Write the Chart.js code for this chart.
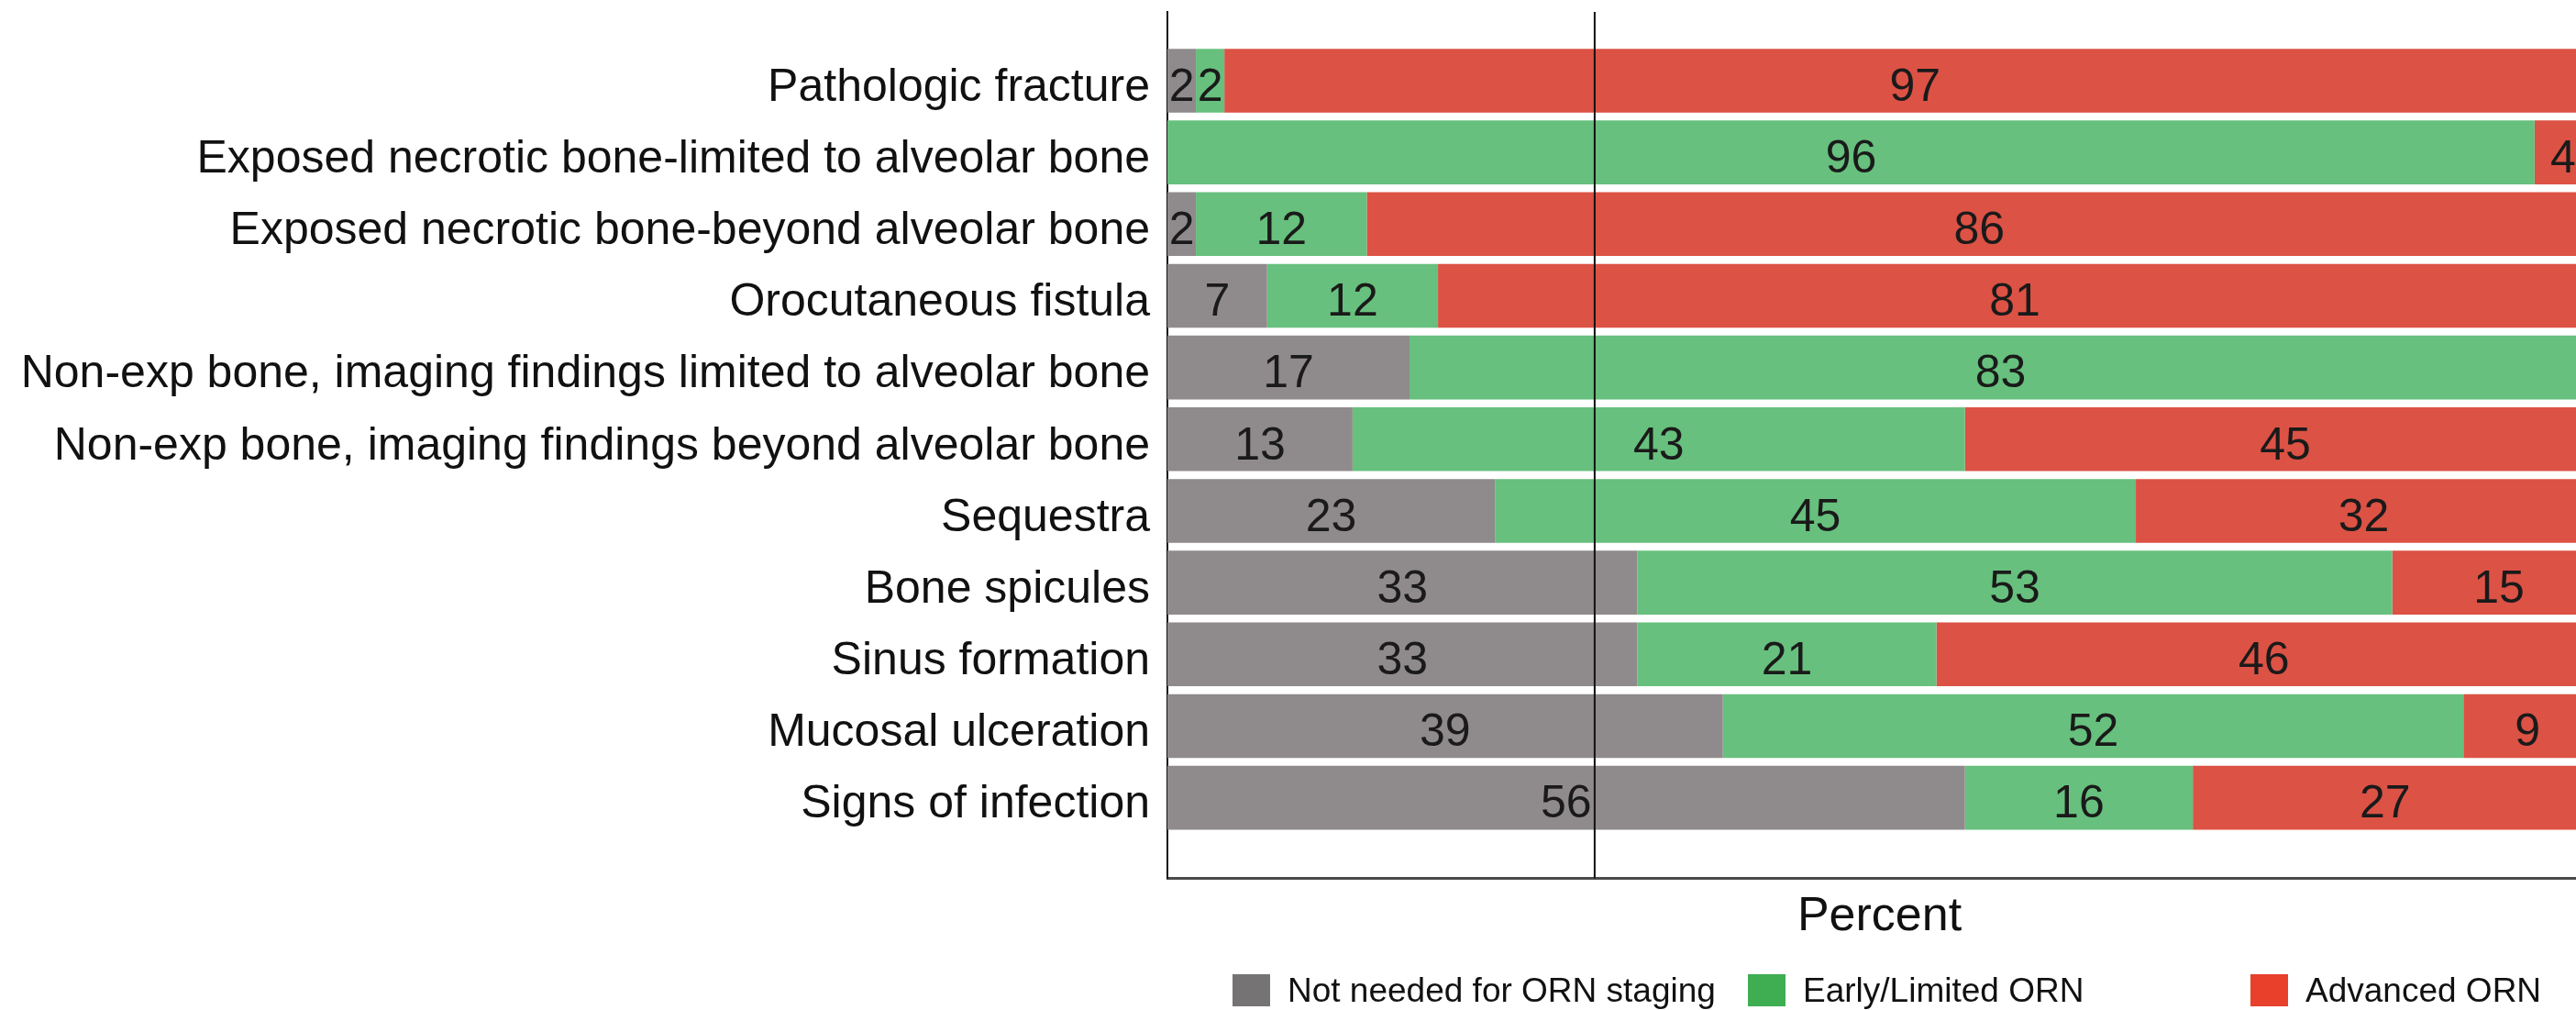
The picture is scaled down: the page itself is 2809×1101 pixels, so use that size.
<!DOCTYPE html>
<html>
<head>
<meta charset="utf-8">
<script src="https://cdn.jsdelivr.net/npm/chart.js@4.4.0/dist/chart.umd.min.js"></script>
<style>
  html, body { margin: 0; padding: 0; background: #fff; overflow: hidden; }
  #wrap { position: relative; width: 2809px; height: 1101px; overflow: hidden; }
  #legend { position: absolute; left: 1344px; top: 1062px; display: flex;
            font-family: "Liberation Sans", Arial, sans-serif; font-size: 37px; color: #111; }
  .item { display: flex; align-items: center; height: 35px; }
  .box { width: 41px; height: 35px; margin-right: 19px; }
</style>
</head>
<body>
<div id="wrap">
  <canvas id="chart" width="2826" height="1101"></canvas>
  <div id="legend"></div>
</div>
<script>
// values (percent of cases)
const categories = [
  "Pathologic fracture",
  "Exposed necrotic bone-limited to alveolar bone",
  "Exposed necrotic bone-beyond alveolar bone",
  "Orocutaneous fistula",
  "Non-exp bone, imaging findings limited to alveolar bone",
  "Non-exp bone, imaging findings beyond alveolar bone",
  "Sequestra",
  "Bone spicules",
  "Sinus formation",
  "Mucosal ulceration",
  "Signs of infection"
];
const seriesNames = ["Not needed for ORN staging", "Early/Limited ORN", "Advanced ORN"];
const notNeeded    = [2, 0, 2, 7, 17, 13, 23, 33, 33, 39, 56];
const earlyLimited = [2, 96, 12, 12, 83, 43, 45, 53, 21, 52, 16];
const advanced     = [97, 4, 86, 81, 0, 45, 32, 15, 46, 9, 27];
const refLine = 30;

const barColors = ["#8f8a8c", "#67c07d", "#dc5245"];
const legendColors = ["#767375", "#3fad52", "#e8402b"];
const legendWidths = [562, 548, null];

const FONT = '"Liberation Sans", Arial, sans-serif';

function toPoints(arr){
  return arr.map((v, i) => ({x: v, y: i}));
}

// reference line + value labels on top of the bars
const overlay = {
  id: "overlay",
  afterDatasetsDraw(chart){
    const {ctx, chartArea, scales} = chart;
    const rx = scales.x.getPixelForValue(refLine);
    ctx.save();
    ctx.strokeStyle = "#111";
    ctx.lineWidth = 2;
    ctx.beginPath();
    ctx.moveTo(rx, chartArea.top);
    ctx.lineTo(rx, chartArea.bottom);
    ctx.stroke();

    ctx.font = "50px " + FONT;
    ctx.fillStyle = "#1a1a1a";
    ctx.textAlign = "center";
    ctx.textBaseline = "middle";
    chart.data.datasets.forEach((ds, di) => {
      chart.getDatasetMeta(di).data.forEach((bar, i) => {
        const v = ds.data[i].x;
        if (!v) return;
        const p = bar.getProps(["x", "base", "y"], true);
        ctx.fillText(String(v), (p.x + p.base) / 2, p.y + 8);
      });
    });
    ctx.restore();
  }
};

const chart = new Chart(document.getElementById("chart"), {
  type: "bar",
  data: {
    datasets: [notNeeded, earlyLimited, advanced].map((arr, k) => ({
      label: seriesNames[k],
      data: toPoints(arr),
      backgroundColor: barColors[k],
      borderWidth: 0,
      categoryPercentage: 1,
      barPercentage: 0.89
    }))
  },
  options: {
    indexAxis: "y",
    responsive: false,
    animation: false,
    layout: { padding: { top: 13, right: 0, bottom: 70, left: 0 } },
    plugins: {
      legend: { display: false },
      tooltip: { enabled: false }
    },
    scales: {
      x: {
        stacked: true,
        min: 0,
        max: 100,
        grid: { display: false, drawTicks: false },
        ticks: { display: false },
        border: { display: true, color: "#4a4a4a", width: 3 },
        title: {
          display: true,
          text: "Percent",
          color: "#111",
          font: { family: FONT, size: 52 },
          padding: { top: 11, bottom: 0 }
        }
      },
      y: {
        type: "linear",
        stacked: true,
        reverse: true,
        offset: false,
        bounds: "data",
        min: -0.959,
        max: 11.125,
        grid: { display: false, drawTicks: false, offset: false },
        border: { display: true, color: "#111", width: 2 },
        ticks: {
          autoSkip: false,
          padding: 19,
          labelOffset: 8,
          color: "#111",
          font: { family: FONT, size: 50 },
          callback: v => categories[v] ?? ""
        },
        // one tick per category row
        afterBuildTicks(scale){
          scale.ticks = categories.map((c, i) => ({value: i}));
        },
        afterFit(scale){
          scale.width = 1273;
          scale.paddingTop = 0;
          scale.paddingBottom = 0;
        }
      }
    }
  },
  plugins: [overlay]
});

// legend in fixed columns under the plot
const legendEl = document.getElementById("legend");
seriesNames.forEach((name, k) => {
  const item = document.createElement("div");
  item.className = "item";
  if (legendWidths[k]) item.style.width = legendWidths[k] + "px";
  item.innerHTML = `<div class="box" style="background:${legendColors[k]}"></div><span>${name}</span>`;
  legendEl.appendChild(item);
});
</script>
</body>
</html>
